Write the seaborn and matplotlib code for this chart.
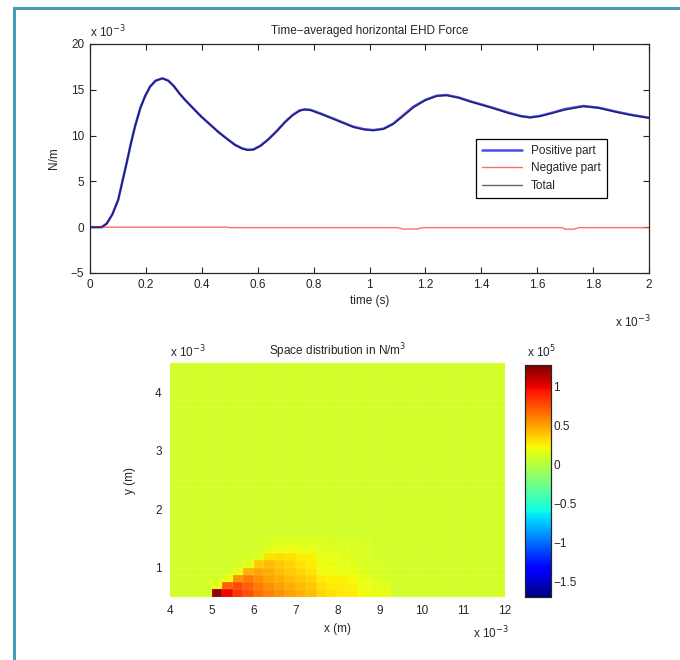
import numpy as np
import matplotlib
matplotlib.use("Agg")
import matplotlib.pyplot as plt
import seaborn as sns
from matplotlib.patches import Rectangle

# ---- top panel: time-averaged horizontal force (values in 1e-3 N/m, time in 1e-3 s)
time_ms = [0.0, 0.02, 0.042, 0.06, 0.08, 0.101, 0.116, 0.131, 0.146, 0.161, 0.18,
           0.197, 0.215, 0.235, 0.259, 0.28, 0.3, 0.32, 0.34, 0.37, 0.399, 0.43,
           0.459, 0.49, 0.519, 0.545, 0.564, 0.585, 0.61, 0.638, 0.668, 0.698,
           0.725, 0.75, 0.769, 0.79, 0.83, 0.883, 0.942, 0.98, 1.013, 1.05, 1.085,
           1.12, 1.157, 1.2, 1.24, 1.276, 1.32, 1.36, 1.407, 1.45, 1.497, 1.54,
           1.574, 1.61, 1.646, 1.7, 1.765, 1.82, 1.884, 1.94, 2.0]
positive = [0.0, 0.0, 0.0, 0.4, 1.4, 3.0, 5.0, 7.0, 9.1, 11.0, 13.0,
            14.3, 15.35, 16.0, 16.25, 16.0, 15.4, 14.6, 13.9, 12.95, 12.05, 11.2,
            10.4, 9.65, 9.0, 8.6, 8.45, 8.5, 8.9, 9.6, 10.5, 11.5,
            12.25, 12.75, 12.87, 12.8, 12.35, 11.7, 10.97, 10.7, 10.6, 10.75, 11.3,
            12.2, 13.15, 13.9, 14.35, 14.43, 14.15, 13.75, 13.34, 12.95, 12.5, 12.15,
            12.0, 12.15, 12.43, 12.9, 13.23, 13.05, 12.6, 12.25, 11.95]
total = [0.0, 0.0, 0.0, 0.4, 1.4, 3.0, 5.0, 7.0, 9.1, 11.0, 13.0,
         14.3, 15.35, 16.0, 16.25, 16.0, 15.4, 14.6, 13.9, 12.95, 12.05, 11.2,
         10.4, 9.65, 8.95, 8.55, 8.4, 8.45, 8.85, 9.55, 10.45, 11.45,
         12.2, 12.7, 12.82, 12.75, 12.3, 11.65, 10.92, 10.65, 10.55, 10.7, 11.25,
         12.1, 13.05, 13.85, 14.3, 14.38, 14.1, 13.7, 13.29, 12.9, 12.45, 12.1,
         11.95, 12.1, 12.38, 12.8, 13.18, 13.0, 12.55, 12.2, 11.9]
neg_time = [0.0, 0.49, 0.5, 0.9, 1.1, 1.12, 1.17, 1.19, 1.5, 1.69, 1.7, 1.73, 1.75, 2.0]
negative = [0.0, 0.0, -0.05, -0.05, -0.05, -0.2, -0.2, -0.05, -0.05, -0.05, -0.22,
            -0.22, -0.05, -0.05]

# ---- bottom panel: space distribution (values in 1e5 N/m^3)
x_edges_start = 4.0      # mm
x_step = 0.25
y_edges_start = 0.5      # mm
y_step = 0.125
n_cols, n_rows = 32, 32
background = 0.1
# hot block: rows y = 0.5 .. 1.5 (bottom to top), cols x = 4.75 .. 9.25
block_col0 = 3
hot_block = [
    [0.10, 1.20, 1.00, 0.85, 0.75, 0.66, 0.60, 0.55, 0.50, 0.45, 0.42, 0.33, 0.30, 0.28, 0.26, 0.22, 0.20, 0.18],
    [0.10, 0.20, 0.70, 0.78, 0.70, 0.62, 0.56, 0.50, 0.46, 0.42, 0.38, 0.30, 0.28, 0.27, 0.25, 0.20, 0.18, 0.16],
    [0.10, 0.11, 0.20, 0.55, 0.62, 0.56, 0.50, 0.46, 0.42, 0.38, 0.35, 0.27, 0.25, 0.24, 0.22, 0.17, 0.15, 0.13],
    [0.10, 0.10, 0.11, 0.18, 0.45, 0.50, 0.46, 0.42, 0.38, 0.33, 0.30, 0.22, 0.21, 0.19, 0.18, 0.15, 0.13, 0.11],
    [0.10, 0.10, 0.10, 0.11, 0.16, 0.38, 0.42, 0.38, 0.35, 0.30, 0.28, 0.19, 0.18, 0.17, 0.16, 0.14, 0.12, 0.11],
    [0.10, 0.10, 0.10, 0.10, 0.11, 0.15, 0.30, 0.32, 0.30, 0.27, 0.25, 0.17, 0.17, 0.16, 0.15, 0.13, 0.11, 0.10],
    [0.10, 0.10, 0.10, 0.10, 0.10, 0.11, 0.17, 0.19, 0.19, 0.18, 0.17, 0.16, 0.15, 0.15, 0.14, 0.13, 0.11, 0.10],
    [0.10, 0.10, 0.10, 0.10, 0.10, 0.10, 0.14, 0.15, 0.15, 0.15, 0.15, 0.14, 0.14, 0.13, 0.13, 0.12, 0.11, 0.10],
]
cbar_min, cbar_max = -1.69, 1.28
cbar_ticks = [-1.5, -1, -0.5, 0, 0.5, 1]
x_ticks = [4, 5, 6, 7, 8, 9, 10, 11, 12]
y_ticks = [1, 2, 3, 4]

sns.set_style("ticks")
plt.rcParams["font.family"] = ["Liberation Sans", "DejaVu Sans"]
plt.rcParams["font.size"] = 8.5
plt.rcParams["axes.linewidth"] = 0.9

fig = plt.figure(figsize=(6.8, 6.6), dpi=100)
fig.patches.append(Rectangle((14 / 680, -0.05), 1.1, 1.05 - 8 / 660, transform=fig.transFigure,
                             fill=False, edgecolor="#4a9db4", linewidth=2.2))

# ---------------- top axes
ax1 = fig.add_axes([90 / 680, 1 - 273 / 660, 559 / 680, 229 / 660])
sns.lineplot(x=time_ms, y=positive, ax=ax1, color="#4a4af0", lw=1.8, label="Positive part")
sns.lineplot(x=neg_time, y=negative, ax=ax1, color="#ff4a4a", lw=1.0, alpha=0.8, label="Negative part")
sns.lineplot(x=time_ms, y=total, ax=ax1, color="black", lw=1.0, alpha=0.6, label="Total")
ax1.set_xlim(0, 2)
ax1.set_ylim(-5, 20)
ax1.set_xticks(np.arange(0, 2.01, 0.2))
ax1.set_xticklabels(["0", "0.2", "0.4", "0.6", "0.8", "1", "1.2", "1.4", "1.6", "1.8", "2"])
ax1.set_yticks([-5, 0, 5, 10, 15, 20])
ax1.set_yticklabels(["\u22125", "0", "5", "10", "15", "20"])
ax1.tick_params(direction="in", top=True, right=True, length=4, pad=4, labelsize=8.5)
for s in ax1.spines.values():
    s.set_visible(True)
ax1.set_title("Time\u2212averaged horizontal EHD Force", fontsize=8.5, pad=7)
ax1.set_xlabel("time (s)", fontsize=8.5, labelpad=3)
ax1.set_ylabel("N/m", fontsize=8.5, labelpad=8)
leg = ax1.legend(loc="upper right", bbox_to_anchor=(0.935, 0.61), fontsize=8.5,
                 fancybox=False, edgecolor="black", framealpha=1, handlelength=3.4,
                 borderpad=0.5, labelspacing=0.45)
leg.get_frame().set_linewidth(0.9)
fig.text(90 / 680, 1 - 32 / 660, r"x 10$^{-3}$", fontsize=8.5, ha="left", va="center")
fig.text(615 / 680, 1 - 322 / 660, r"x 10$^{-3}$", fontsize=8.5, ha="left", va="center")

# ---------------- bottom heatmap
field = np.full((n_rows, n_cols), background)
for r, row in enumerate(hot_block):
    field[r, block_col0:block_col0 + len(row)] = row

ax2 = fig.add_axes([170 / 680, 1 - 596.7 / 660, 335 / 680, 233.4 / 660])
cax = fig.add_axes([525 / 680, 1 - 596.7 / 660, 25.7 / 680, 231.7 / 660])
sns.heatmap(field, ax=ax2, cbar_ax=cax, cmap="jet", vmin=cbar_min, vmax=cbar_max,
            xticklabels=False, yticklabels=False, linewidths=0.3,
            linecolor=(1, 1, 1, 0.05))
ax2.set_ylim(0, n_rows)
ax2.set_xticks([(v - x_edges_start) / x_step for v in x_ticks])
ax2.set_xticklabels([str(v) for v in x_ticks])
ax2.set_yticks([(v - y_edges_start) / y_step for v in y_ticks])
ax2.set_yticklabels([str(v) for v in y_ticks], rotation=0)
ax2.tick_params(direction="in", length=0, pad=6, labelsize=8.5)
ax2.set_xlabel("x (m)", fontsize=8.5, labelpad=4)
ax2.set_ylabel("y (m)", fontsize=8.5, labelpad=14)
ax2.set_title(r"Space distribution in N/m$^{3}$", fontsize=8.5, pad=6)
fig.text(170 / 680, 1 - 352 / 660, r"x 10$^{-3}$", fontsize=8.5, ha="left", va="center")
fig.text(473 / 680, 1 - 633 / 660, r"x 10$^{-3}$", fontsize=8.5, ha="left", va="center")

cax.set_yticks(cbar_ticks)
cax.set_yticklabels(["\u22121.5", "\u22121", "\u22120.5", "0", "0.5", "1"])
cax.tick_params(direction="in", length=3, right=True, left=True, labelsize=8.5, pad=2)
for s in cax.spines.values():
    s.set_visible(True)
    s.set_linewidth(0.8)
fig.text(527 / 680, 1 - 352 / 660, r"x 10$^{5}$", fontsize=8.5, ha="left", va="center")

fig.savefig("out.png", dpi=100)
